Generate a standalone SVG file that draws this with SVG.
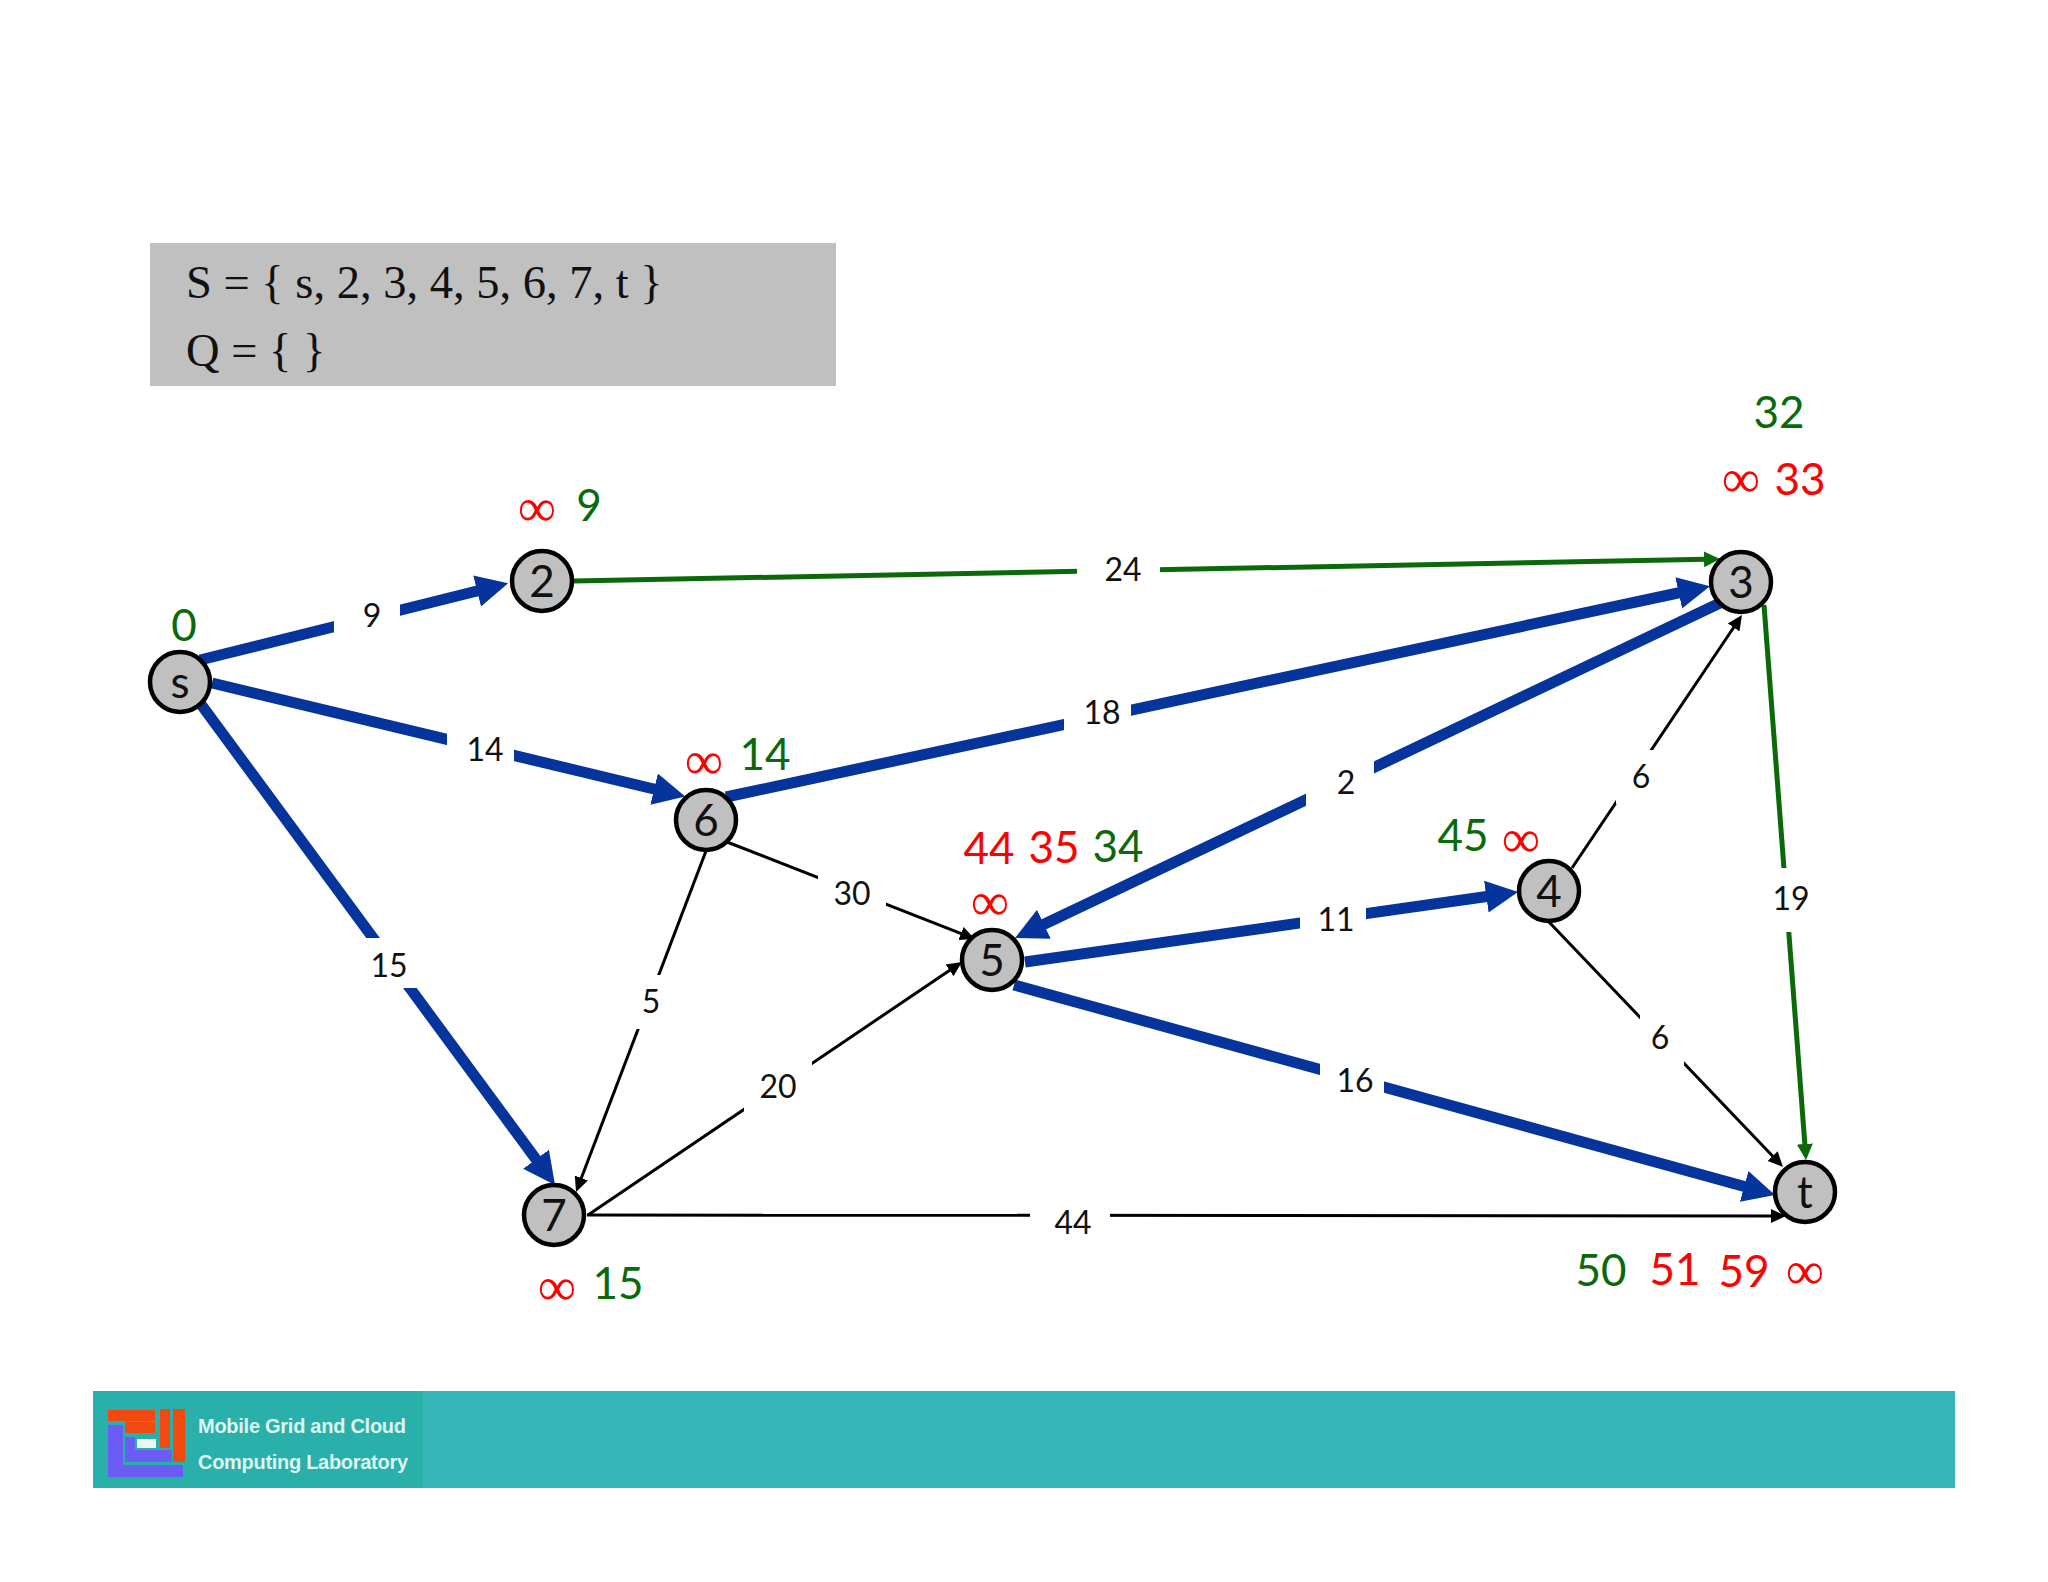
<svg xmlns="http://www.w3.org/2000/svg" width="2048" height="1582" viewBox="0 0 2048 1582">
<style>
.n{fill:#c0c0c0;stroke:#000;stroke-width:4.5}
.nt{font:44px "Lato","Noto Sans",sans-serif;fill:#111;text-anchor:middle}
.lb{font:32px "Lato","Noto Sans",sans-serif;fill:#111;text-anchor:middle}
.g{font:44px "Lato","Noto Sans",sans-serif;fill:#0a6a0a;text-anchor:middle}
.r{font:44px "Lato","Noto Sans",sans-serif;fill:#f00;text-anchor:middle}
.inf{font:54px "Liberation Serif",serif;fill:#f00;text-anchor:middle}
.blue{stroke:#04349c;stroke-width:11;fill:none;marker-end:url(#ab)}
.green{stroke:#0a6a0a;stroke-width:5;fill:none;marker-end:url(#ag)}
.black{stroke:#000;stroke-width:3;fill:none;marker-end:url(#ak)}
.w{fill:#fff}
.set{font:46.5px "Liberation Serif",serif;fill:#111}
.lg{font:bold 20px "Liberation Sans",sans-serif;fill:#dff5f0}
</style>
<defs>
<marker id="ab" markerUnits="userSpaceOnUse" markerWidth="34" markerHeight="34" refX="4" refY="17" orient="auto"><path d="M0 1L32 17L0 33Z" fill="#04349c"/></marker>
<marker id="ag" markerUnits="userSpaceOnUse" markerWidth="18" markerHeight="18" refX="2" refY="9" orient="auto"><path d="M0 1L16 9L0 17Z" fill="#0a6a0a"/></marker>
<marker id="ak" markerUnits="userSpaceOnUse" markerWidth="18" markerHeight="18" refX="3" refY="9" orient="auto"><path d="M0 2L15 9L0 16Z" fill="#000"/></marker>
</defs>
<rect width="2048" height="1582" fill="#fff"/>
<g id="set-box"><rect x="150" y="243" width="686" height="143" fill="#c0c0c0"/>
<text class="set" x="186" y="298">S = { s, 2, 3, 4, 5, 6, 7, t }</text>
<text class="set" x="186" y="366">Q = { }</text></g>
<g id="connectors">
<line class="blue" x1="200" y1="660" x2="481" y2="590"/>
<line class="blue" x1="212" y1="683" x2="658" y2="790"/>
<line class="blue" x1="200" y1="703" x2="538.4" y2="1162.5"/>
<line class="blue" x1="726" y1="797" x2="1682.6" y2="592"/>
<line class="blue" x1="1720" y1="603" x2="1040.3" y2="926"/>
<line class="blue" x1="1025" y1="962" x2="1490.3" y2="896"/>
<line class="blue" x1="1014" y1="985" x2="1748" y2="1187.5"/>
<line class="green" x1="574" y1="581" x2="1706" y2="559.3"/>
<line class="green" x1="1764" y1="605" x2="1805" y2="1146"/>
<line class="black" x1="1572" y1="868" x2="1735.3" y2="625"/>
<line class="black" x1="1549" y1="922" x2="1774.7" y2="1158.3"/>
<line class="black" x1="727" y1="842" x2="963.8" y2="934.6"/>
<line class="black" x1="706" y1="851" x2="580.3" y2="1180.8"/>
<line class="black" x1="588" y1="1215" x2="952" y2="968.7"/>
<line class="black" x1="587" y1="1215" x2="1774" y2="1216"/>
</g>
<g id="edge-labels">
<rect class="w" x="334" y="590" width="66" height="54"/><text class="lb" x="372" y="627">9</text>
<rect class="w" x="447" y="723" width="67" height="54"/><text class="lb" x="485" y="761">14</text>
<rect class="w" x="356" y="938" width="66" height="50"/><text class="lb" x="389" y="977">15</text>
<rect class="w" x="1077" y="543" width="83" height="54"/><text class="lb" x="1123" y="581">24</text>
<rect class="w" x="1064" y="685" width="67" height="54"/><text class="lb" x="1102" y="724">18</text>
<rect class="w" x="1306" y="756" width="68" height="54"/><text class="lb" x="1346" y="794">2</text>
<rect class="w" x="1616" y="750" width="50" height="54"/><text class="lb" x="1641" y="788">6</text>
<rect class="w" x="1300" y="893" width="66" height="54"/><text class="lb" x="1336" y="931">11</text>
<rect class="w" x="818" y="866" width="68" height="54"/><text class="lb" x="852" y="905">30</text>
<rect class="w" x="630" y="975" width="42" height="54"/><text class="lb" x="651" y="1013">5</text>
<rect class="w" x="744" y="1059" width="68" height="54"/><text class="lb" x="778" y="1098">20</text>
<rect class="w" x="1320" y="1054" width="64" height="54"/><text class="lb" x="1355" y="1092">16</text>
<rect class="w" x="1030" y="1195" width="80" height="54"/><text class="lb" x="1073" y="1234">44</text>
<rect class="w" x="1640" y="1011" width="44" height="54"/><text class="lb" x="1660" y="1049">6</text>
<rect class="w" x="1768" y="868" width="48" height="64"/><text class="lb" x="1791" y="910">19</text>
</g>
<g id="node-s"><circle class="n" cx="180" cy="682" r="30"/><text class="nt" x="180" y="698">s</text></g>
<g id="node-2"><circle class="n" cx="542" cy="581" r="30"/><text class="nt" x="542" y="597">2</text></g>
<g id="node-3"><circle class="n" cx="1741" cy="582" r="30"/><text class="nt" x="1741" y="598">3</text></g>
<g id="node-4"><circle class="n" cx="1549" cy="891" r="30"/><text class="nt" x="1549" y="907">4</text></g>
<g id="node-5"><circle class="n" cx="992" cy="960" r="30"/><text class="nt" x="992" y="976">5</text></g>
<g id="node-6"><circle class="n" cx="706" cy="820" r="30"/><text class="nt" x="706" y="836">6</text></g>
<g id="node-7"><circle class="n" cx="554" cy="1215" r="30"/><text class="nt" x="554" y="1231">7</text></g>
<g id="node-t"><circle class="n" cx="1805" cy="1192" r="30"/><text class="nt" x="1805" y="1208">t</text></g>
<g id="distances">
<text class="g" x="184" y="641">0</text>
<text class="inf" x="537" y="526">∞</text><text class="g" x="589" y="521">9</text>
<text class="inf" x="704" y="779">∞</text><text class="g" x="765" y="770">14</text>
<text class="r" x="989" y="864">44</text><text class="r" x="1054" y="863">35</text><text class="g" x="1118" y="862">34</text>
<text class="inf" x="990" y="920">∞</text>
<text class="g" x="1463" y="851">45</text><text class="inf" x="1521" y="857">∞</text>
<text class="g" x="1779" y="428">32</text>
<text class="inf" x="1741" y="497">∞</text><text class="r" x="1800" y="495">33</text>
<text class="inf" x="557" y="1305">∞</text><text class="g" x="618" y="1299">15</text>
<text class="g" x="1601" y="1286">50</text><text class="r" x="1675" y="1285">51</text><text class="r" x="1744" y="1287">59</text><text class="inf" x="1805" y="1289">∞</text>
</g>
<g id="footer">
<rect x="93" y="1391" width="1862" height="97" fill="#35b5b8"/>
<rect x="93" y="1391" width="330" height="97" fill="#2ab0aa"/>
<g fill="#6a5cf5"><rect x="108" y="1425" width="15" height="52"/><rect x="108" y="1465" width="75" height="12"/><rect x="125" y="1437" width="10" height="25"/><rect x="125" y="1450" width="47" height="12"/></g>
<g fill="#f04a10"><rect x="108" y="1410" width="47" height="11"/><rect x="125" y="1422" width="30" height="11"/><rect x="160" y="1409" width="10" height="39"/><rect x="173" y="1409" width="12" height="53"/></g>
<rect x="137" y="1439" width="19" height="9" fill="#eef6f0"/>
<text class="lg" x="198" y="1433" textLength="208">Mobile Grid and Cloud</text>
<text class="lg" x="198" y="1469" textLength="210">Computing Laboratory</text>
</g>
</svg>
